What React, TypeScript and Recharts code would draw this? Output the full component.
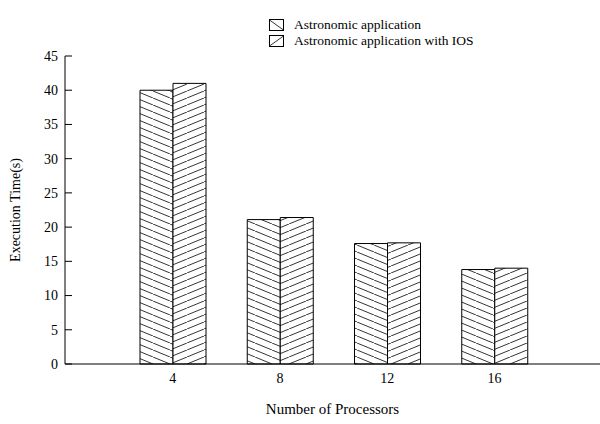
import { Bar, BarChart, Label, Legend, XAxis, YAxis } from "recharts";

const processors = ["4", "8", "12", "16"];
const plainTimes = [40, 21.1, 17.6, 13.8];
const iosTimes = [41, 21.4, 17.7, 14.0];
const yTicks = [0, 5, 10, 15, 20, 25, 30, 35, 40, 45];

const seriesNames = ["Astronomic application", "Astronomic application with IOS"];

const chartData = processors.map((p, i) => ({
  processors: p,
  plain: plainTimes[i],
  ios: iosTimes[i],
}));

const INK = "#000";
const FONT = "Liberation Serif, Times New Roman, serif";
const TICK_LEN = 7;
const Y_LABEL_GAP = 7;

// gnuplot-style key: small box with a single hatch stroke
function HatchKey() {
  return (
    <div style={{ fontFamily: FONT, fontSize: 13.5, color: INK, lineHeight: "16px" }}>
      {seriesNames.map((name, i) => (
        <div key={name} style={{ display: "flex", alignItems: "center", height: 16 }}>
          <svg width={15} height={12} style={{ marginRight: 10 }}>
            <rect x={0.5} y={0.5} width={14} height={11} fill="#fff" stroke={INK} />
            {i === 0 ? (
              <line x1={0.5} y1={1} x2={14.5} y2={11} stroke={INK} strokeWidth={0.8} />
            ) : (
              <line x1={0.5} y1={11} x2={14.5} y2={1} stroke={INK} strokeWidth={0.8} />
            )}
          </svg>
          <span>{name}</span>
        </div>
      ))}
    </div>
  );
}

// left axis: value label outside, short tick pointing into the plot
function LeftTick({ x, y, payload }: any) {
  const axisX = x + Y_LABEL_GAP;
  return (
    <g>
      <line x1={axisX} y1={y} x2={axisX + TICK_LEN} y2={y} stroke={INK} />
      <text x={x} y={y} dy="0.35em" textAnchor="end" fill={INK} fontSize={14} fontFamily={FONT}>
        {payload.value}
      </text>
    </g>
  );
}

function RightTick({ x, y }: any) {
  return <line x1={x - TICK_LEN} y1={y} x2={x} y2={y} stroke={INK} />;
}

function TopTick({ x, y }: any) {
  return <line x1={x} y1={y} x2={x} y2={y + TICK_LEN} stroke={INK} />;
}

export default function App() {
  return (
    <div style={{ position: "absolute", left: 0, top: 0, background: "#fff" }}>
      <BarChart
        width={600}
        height={424}
        data={chartData}
        margin={{ top: 56, right: 0, bottom: 30, left: 25 }}
        barGap={0}
        barCategoryGap={21}
      >
        <defs>
          <pattern id="hatchDown" patternUnits="userSpaceOnUse" width={17} height={7}>
            <rect width={17} height={7} fill="#fff" />
            <line x1={0} y1={0} x2={17} y2={7} stroke={INK} strokeWidth={0.8} />
          </pattern>
          <pattern id="hatchUp" patternUnits="userSpaceOnUse" width={17} height={7}>
            <rect width={17} height={7} fill="#fff" />
            <line x1={0} y1={7} x2={17} y2={0} stroke={INK} strokeWidth={0.8} />
          </pattern>
        </defs>

        <XAxis
          dataKey="processors"
          padding={{ left: 54, right: 52 }}
          axisLine={{ stroke: INK }}
          tickLine={false}
          tickSize={0}
          tickMargin={9}
          tick={{ fill: INK, fontSize: 14, fontFamily: FONT }}
        >
          <Label
            value="Number of Processors"
            position="bottom"
            offset={9}
            style={{ fill: INK, fontSize: 15, fontFamily: FONT }}
          />
        </XAxis>
        {/* top border of the frame with inward ticks */}
        <XAxis
          xAxisId="top"
          dataKey="processors"
          orientation="top"
          height={0}
          padding={{ left: 54, right: 52 }}
          axisLine={{ stroke: INK }}
          tickLine={false}
          tickSize={0}
          tickMargin={0}
          tick={<TopTick />}
        />

        <YAxis
          domain={[0, 45]}
          ticks={yTicks}
          width={40}
          axisLine={{ stroke: INK }}
          tickLine={false}
          tickSize={0}
          tickMargin={Y_LABEL_GAP}
          tick={<LeftTick />}
        >
          <Label
            value="Execution Time(s)"
            angle={-90}
            position="center"
            dx={-30}
            style={{ fill: INK, fontSize: 14, fontFamily: FONT }}
          />
        </YAxis>
        <YAxis
          yAxisId="right"
          orientation="right"
          domain={[0, 45]}
          ticks={yTicks}
          width={0}
          axisLine={{ stroke: INK }}
          tickLine={false}
          tickSize={0}
          tickMargin={0}
          tick={<RightTick />}
        />

        <Legend
          layout="vertical"
          align="center"
          verticalAlign="middle"
          content={() => <HatchKey />}
          wrapperStyle={{ top: 17, left: 269, width: "auto" }}
        />

        <Bar
          dataKey="plain"
          name={seriesNames[0]}
          fill="url(#hatchDown)"
          stroke={INK}
          strokeWidth={1}
          isAnimationActive={false}
        />
        <Bar
          dataKey="ios"
          name={seriesNames[1]}
          fill="url(#hatchUp)"
          stroke={INK}
          strokeWidth={1}
          isAnimationActive={false}
        />
      </BarChart>
    </div>
  );
}
